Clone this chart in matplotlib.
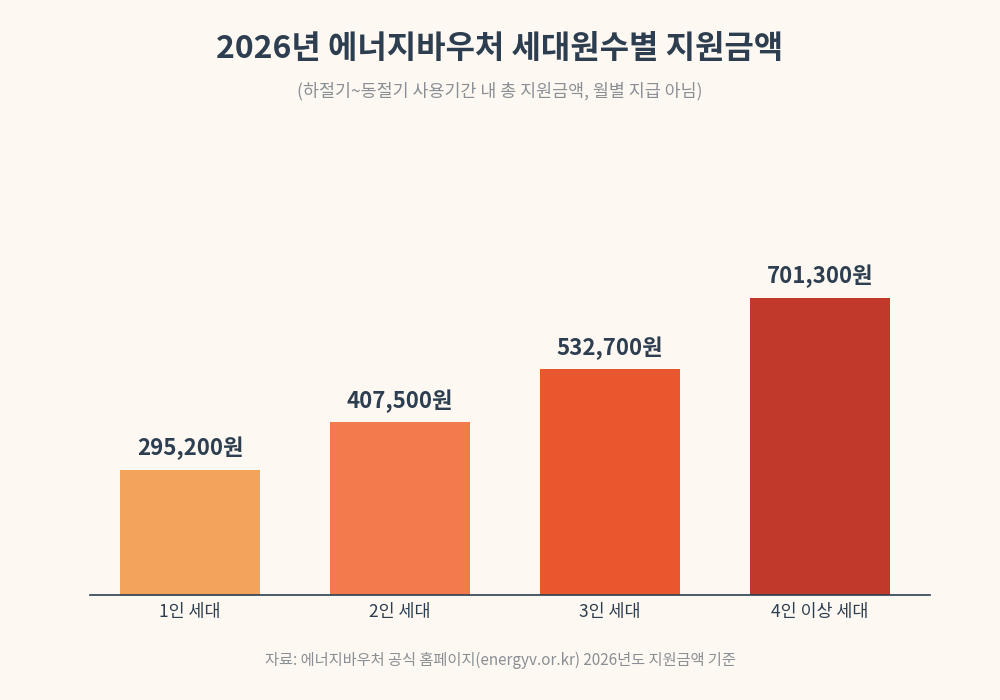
import matplotlib
matplotlib.use('Agg')
from matplotlib import pyplot as plt

plt.rcParams['font.family'] = ['Noto Sans CJK KR', 'DejaVu Sans']

categories = ['1인 세대', '2인 세대', '3인 세대', '4인 이상 세대']
amounts = [295200, 407500, 532700, 701300]
colors = ['#F4A35B', '#F27A4C', '#E8572E', '#C0392B']

bg = '#FDF8F1'
dark = '#2C3E50'

fig = plt.figure(figsize=(10, 7), dpi=100, facecolor=bg)
ax = fig.add_axes([0.09, 0.15, 0.84, 0.66], facecolor=bg)

x = range(len(categories))
ax.bar(x, amounts, width=0.667, color=colors)
for i, v in enumerate(amounts):
    ax.text(i, v + 22000, f'{v:,}원', ha='center', va='bottom',
            fontsize=16, fontweight='bold', color=dark)

ax.set_xlim(-0.476, 3.524)
ax.set_ylim(0, 1090000)
ax.set_xticks(list(x))
ax.set_xticklabels(categories, fontsize=12.5, color=dark)
ax.tick_params(axis='x', length=0, pad=6)
ax.set_yticks([])
for s in ['top', 'right', 'left']:
    ax.spines[s].set_visible(False)
ax.spines['bottom'].set_color(dark)
ax.spines['bottom'].set_linewidth(1.2)

fig.text(0.5, 0.93, '2026년 에너지바우처 세대원수별 지원금액', ha='center', va='center',
         fontsize=23, fontweight='bold', color=dark)
fig.text(0.5, 0.87, '(하절기~동절기 사용기간 내 총 지원금액, 월별 지급 아님)', ha='center',
         va='center', fontsize=12.5, color='#8A8F95')
fig.text(0.5, 0.057, '자료: 에너지바우처 공식 홈페이지(energyv.or.kr) 2026년도 지원금액 기준',
         ha='center', va='center', fontsize=11, color='#8A8F95')

fig.savefig('out.png', facecolor=bg)
